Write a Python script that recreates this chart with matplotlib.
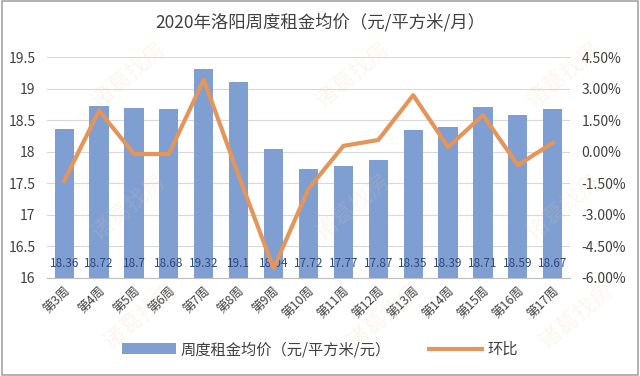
import matplotlib
matplotlib.use('Agg')
import matplotlib.pyplot as plt
from matplotlib.ticker import FuncFormatter, MultipleLocator

plt.rcParams['font.family'] = ['Noto Sans CJK SC', 'DejaVu Sans']

weeks = ['第3周', '第4周', '第5周', '第6周', '第7周', '第8周', '第9周', '第10周',
         '第11周', '第12周', '第13周', '第14周', '第15周', '第16周', '第17周']
rent = [18.36, 18.72, 18.7, 18.68, 19.32, 19.1, 18.04, 17.72,
        17.77, 17.87, 18.35, 18.39, 18.71, 18.59, 18.67]
# 环比 (%)
mom = [-1.39, 1.96, -0.11, -0.11, 3.43, -1.14, -5.55, -1.77,
       0.28, 0.56, 2.69, 0.22, 1.74, -0.64, 0.43]

bar_color = '#7F9FD3'
line_color = '#E3955A'
text_color = '#404040'

fig = plt.figure(figsize=(6.4, 3.76), dpi=100)
ax = fig.add_axes([0.073, 0.261, 0.818, 0.587])

x = list(range(len(weeks)))
ax.bar(x, rent, width=0.55, color=bar_color, zorder=2,
       label='周度租金均价（元/平方米/元）')
ax.set_ylim(16, 19.5)
ax.set_xlim(-0.5, len(weeks) - 0.5)
ax.yaxis.set_major_locator(MultipleLocator(0.5))
ax.yaxis.set_major_formatter(FuncFormatter(lambda v, p: f'{v:g}'))
ax.grid(axis='y', color='#D9D9D9', linewidth=0.8, zorder=0)
ax.set_axisbelow(True)
for s in ['top', 'right', 'left']:
    ax.spines[s].set_visible(False)
ax.spines['bottom'].set_color('#BFBFBF')
ax.tick_params(axis='y', length=0, labelsize=10, colors=text_color, pad=8)
ax.tick_params(axis='x', length=0, labelsize=9, colors=text_color, pad=5)
ax.set_xticks(x)
ax.set_xticklabels(weeks, rotation=45, ha='right', rotation_mode='anchor')

for xi, v in zip(x, rent):
    ax.text(xi, 16.22, f'{v:g}', ha='center', va='center', fontsize=8.5,
            color='#2F4A7A', zorder=4)

ax2 = ax.twinx()
ax2.plot(x, mom, color=line_color, linewidth=3, zorder=3, label='环比')
ax2.set_ylim(-6, 4.5)
ax2.yaxis.set_major_locator(MultipleLocator(1.5))
ax2.yaxis.set_major_formatter(FuncFormatter(lambda v, p: f'{v:.2f}%'))
for s in ['top', 'right', 'left', 'bottom']:
    ax2.spines[s].set_visible(False)
ax2.tick_params(axis='y', length=0, labelsize=10, colors=text_color, pad=8)

fig.text(0.5, 0.94, '2020年洛阳周度租金均价（元/平方米/月）', ha='center',
         va='center', fontsize=12.5, color=text_color)

# faint watermark
for wx, wy in [(0.2, 0.8), (0.55, 0.8), (0.88, 0.8), (0.2, 0.45),
               (0.55, 0.45), (0.88, 0.45), (0.22, 0.16), (0.6, 0.16), (0.9, 0.16)]:
    fig.text(wx, wy, '诸葛找房', rotation=40, fontsize=16, color='#F2C9A0',
             alpha=0.15, ha='center', va='center', zorder=0)

h1, l1 = ax.get_legend_handles_labels()
h2, l2 = ax2.get_legend_handles_labels()
fig.legend(h1 + h2, l1 + l2, loc='center', bbox_to_anchor=(0.5, 0.07),
           ncol=2, frameon=False, fontsize=11, handlelength=3.5,
           columnspacing=2.5, handletextpad=0.3, labelcolor=text_color)

fig.patches.append(plt.Rectangle((0.003, 0.003), 0.994, 0.994, transform=fig.transFigure,
                                 fill=False, edgecolor='#A6A6A6', linewidth=1.2))

fig.savefig('out.png', dpi=100)
